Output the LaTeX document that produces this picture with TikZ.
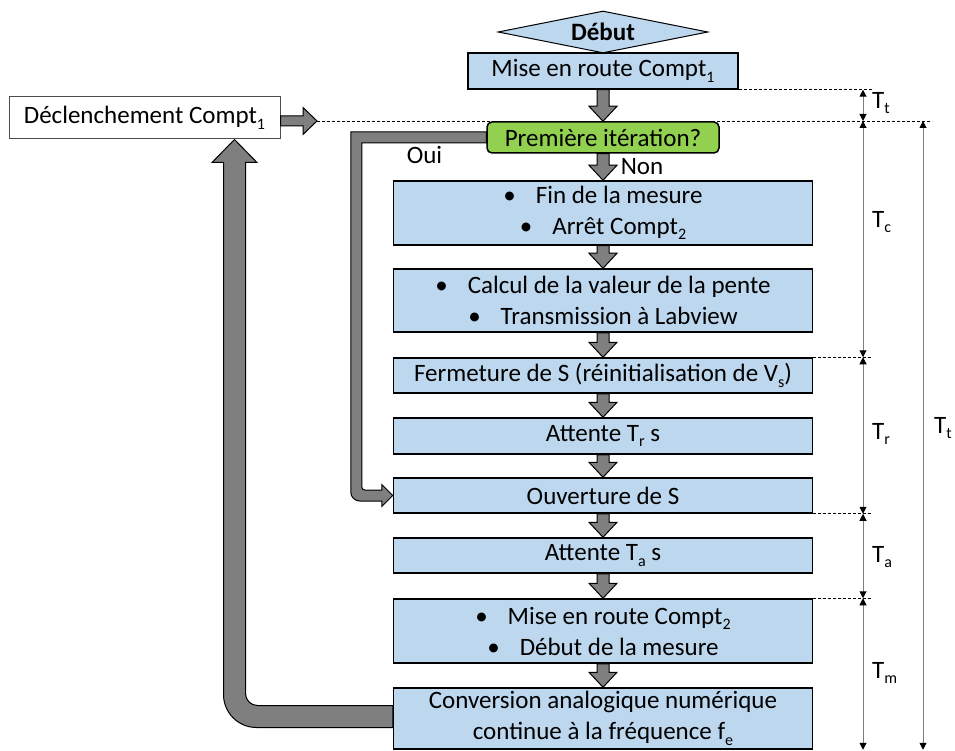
\documentclass[tikz,border=0pt]{standalone}
\usepackage{fontspec}
\setmainfont{Carlito}
\usetikzlibrary{shapes.geometric,calc,arrows.meta}
\definecolor{bleu}{HTML}{BDD7EE}
\definecolor{vert}{HTML}{92D050}
\definecolor{gris}{HTML}{7F7F7F}
\newcommand{\indice}[1]{\raisebox{-0.22em}{\fontsize{16}{16}\selectfont #1}}
\newcommand{\fleche}[2]{%
  \filldraw[flux] ($(#1.south)+(-6,0)$) -- ($(#2.north)+(-6,-15)$)
    -- ($(#2.north)+(-14,-15)$) -- (#2.north) -- ($(#2.north)+(14,-15)$)
    -- ($(#2.north)+(6,-15)$) -- ($(#1.south)+(6,0)$) -- cycle;}
\begin{document}
\begin{tikzpicture}[x=1pt,y=-1pt,inner sep=0pt,
  font=\fontsize{25}{31}\selectfont,
  etape/.style={draw, line width=1.5pt, fill=bleu, minimum width=419pt, align=center},
  test/.style={draw, line width=1.5pt, fill=vert, rounded corners=5pt, minimum width=232pt, minimum height=31pt},
  flux/.style={fill=gris, draw=black, line width=1pt, line join=miter},
  pointille/.style={line width=0.8pt, dash pattern=on 3pt off 2pt},
  cote/.style={draw=gris, line width=1pt, {Triangle[width=7pt,length=7pt,color=black]}-{Triangle[width=7pt,length=7pt,color=black]}}]
\useasboundingbox (0,0) rectangle (955,751);
\node[diamond, draw, line width=1pt, fill=bleu, aspect=5, minimum width=210pt, minimum height=42pt, font=\fontsize{25}{31}\selectfont\bfseries] (debut) at (603,32) {Début};
\node[etape, minimum width=270pt, minimum height=36pt] (mise1) at (603,71) {Mise en route Compt\indice{1}};
\node[test] (prem) at (603,137.5) {Première itération?};
\node[etape, minimum height=64pt] (fin) at (603,213) {\textbullet\hspace{0.8em}Fin de la mesure\\\textbullet\hspace{0.8em}Arrêt Compt\indice{2}};
\node[etape, minimum height=63pt] (calcul) at (603,300.5) {\textbullet\hspace{0.8em}Calcul de la valeur de la pente\\\textbullet\hspace{0.8em}Transmission à Labview};
\node[etape, minimum height=35pt] (ferm) at (603,375.5) {Fermeture de S (réinitialisation de V\indice{s})};
\node[etape, minimum height=36pt] (attr) at (603,436) {Attente T\indice{r} s};
\node[etape, minimum height=35pt] (ouv) at (603,495.5) {Ouverture de S};
\node[etape, minimum height=35pt] (atta) at (603,555.5) {Attente T\indice{a} s};
\node[etape, minimum height=64pt] (mise2) at (603,631) {\textbullet\hspace{0.8em}Mise en route Compt\indice{2}\\\textbullet\hspace{0.8em}Début de la mesure};
\node[etape, minimum height=61pt] (conv) at (603,718.5) {Conversion analogique numérique\\continue à la fréquence f\indice{e}};
\node[draw=black!70, line width=1pt, minimum width=271pt, minimum height=42pt] (decl) at (144.5,118) {Déclenchement Compt\indice{1}};
\node (oui) at (424.5,155) {Oui};
\node (non) at (642,167) {Non};
\coordinate (trig) at (317,121);
\coordinate (retour) at (234.5,0);
\coordinate (fp) at (872,0);
\coordinate (fpl) at (932,0);
\coordinate (cx) at (863,0);
\coordinate (cg) at (923,0);
\fleche{mise1}{prem}
\fleche{prem}{fin}
\fleche{fin}{calcul}
\fleche{calcul}{ferm}
\fleche{ferm}{attr}
\fleche{attr}{ouv}
\fleche{ouv}{atta}
\fleche{atta}{mise2}
\fleche{mise2}{conv}
\filldraw[flux] ($(prem.west)+(0,-5.5)$) -- ($(ouv.west |- prem.west)+(-42,-5.5)$)
  -- ($(ouv.west |- calcul.center)+(-42,0)$)
  [rounded corners=9pt] -- ($(ouv.west)+(-42,5.5)$)
  [sharp corners] -- ($(ouv.west)+(-11,5.5)$) -- ($(ouv.west)+(-11,11)$) -- (ouv.west)
  -- ($(ouv.west)+(-11,-11)$) -- ($(ouv.west)+(-11,-5.5)$)
  [rounded corners=3pt] -- ($(ouv.west)+(-31,-5.5)$)
  [sharp corners] -- ($(ouv.west |- calcul.center)+(-31,0)$)
  -- ($(ouv.west |- prem.west)+(-31,5.5)$) -- ($(prem.west)+(0,5.5)$) -- cycle;
\filldraw[flux] ($(conv.west)+(0,-13)$) -- ($(conv.west)+(-60,-13)$)
  [rounded corners=12pt] -- ($(retour |- conv.west)+(11,-13)$)
  [sharp corners] -- ($(retour |- decl.south)+(11,23)$) -- ($(retour |- decl.south)+(22.5,23)$)
  -- (retour |- decl.south) -- ($(retour |- decl.south)+(-22.5,23)$) -- ($(retour |- decl.south)+(-11,23)$)
  [rounded corners=33pt] -- ($(retour |- conv.west)+(-11,9)$)
  [sharp corners] -- ($(conv.west)+(-60,9)$) -- ($(conv.west)+(0,9)$) -- cycle;
\filldraw[flux] ($(decl.east |- trig)+(0,-5)$) -- ($(trig)+(-14,-5)$) -- ($(trig)+(-14,-13.5)$) -- (trig)
  -- ($(trig)+(-14,13.5)$) -- ($(trig)+(-14,5)$) -- ($(decl.east |- trig)+(0,5)$) -- cycle;
\draw[pointille] (trig) -- (trig -| fpl);
\draw[pointille] (mise1.south east) -- (mise1.south east -| fp);
\draw[pointille] (ferm.north east) -- (ferm.north east -| fp);
\draw[pointille] (ouv.south east) -- (ouv.south east -| fp);
\draw[pointille] (mise2.north east) -- (mise2.north east -| fp);
\draw[cote] (cx |- mise1.south) -- (cx |- trig);
\draw[cote] (cx |- trig) -- (cx |- ferm.north);
\draw[cote] (cx |- ferm.north) -- (cx |- ouv.south);
\draw[cote] (cx |- ouv.south) -- (cx |- mise2.north);
\draw[cote] (cx |- mise2.north) -- (cx |- conv.south);
\draw[cote] (cg |- trig) -- (cg |- conv.south);
\node[anchor=west] (tt) at (872,103) {T\indice{t}};
\node[anchor=west] (tc) at (872,222) {T\indice{c}};
\node[anchor=west] (tr) at (872,434) {T\indice{r}};
\node[anchor=west] (ta) at (872,557) {T\indice{a}};
\node[anchor=west] (tm) at (872,673) {T\indice{m}};
\node[anchor=west] (ttot) at (934,428) {T\indice{t}};
\end{tikzpicture}
\end{document}
